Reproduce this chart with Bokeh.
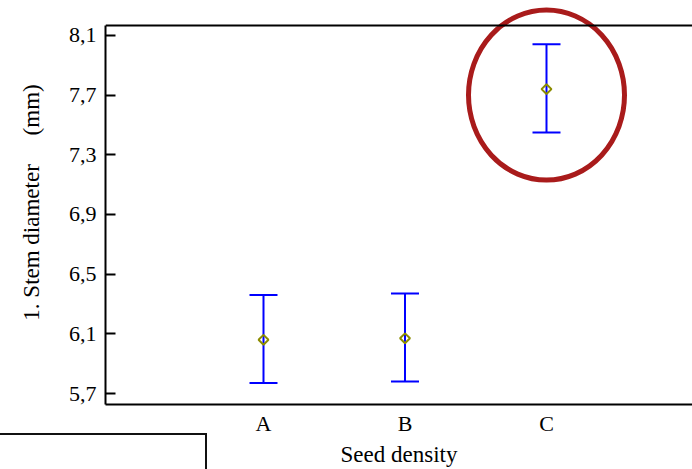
from bokeh.plotting import figure
from bokeh.models import (Range1d, FixedTicker, CustomJSTickFormatter, Whisker, TeeHead,
                          ColumnDataSource, Span, InlineStyleSheet)
from bokeh.embed import file_html
from bokeh.resources import INLINE
import numpy as np

# Data
categories = ["A", "B", "C"]
cat_pos = [1, 2, 3]
means = [6.06, 6.07, 7.74]
lower = [5.77, 5.78, 7.45]
upper = [6.36, 6.37, 8.04]
y_ticks = [5.7, 6.1, 6.5, 6.9, 7.3, 7.7, 8.1]

FONT = "Liberation Serif"

p = figure(width=692, height=469, output_backend="svg", toolbar_location=None,
           x_range=Range1d(-0.1166, 4.0318), y_range=Range1d(5.6263, 8.334),
           min_border_left=105, min_border_right=0, min_border_top=0, min_border_bottom=65)
p.outline_line_color = None
p.grid.visible = False
p.background_fill_color = "white"
p.border_fill_color = "white"

# top border line
p.add_layout(Span(location=8.1665, dimension="width", line_color="black", line_width=2))

# y axis
ya = p.yaxis[0]
ya.ticker = FixedTicker(ticks=y_ticks)
ya.formatter = CustomJSTickFormatter(code="return tick.toFixed(1).replace('.', ',');")
ya.bounds = (5.6263, 8.1665)
ya.axis_line_width = 2
ya.major_tick_in = 10
ya.major_tick_out = 0
ya.major_tick_line_width = 2
ya.minor_tick_line_color = None
ya.major_label_text_font = FONT
ya.major_label_text_font_size = "22px"
ya.major_label_text_color = "black"
ya.major_label_standoff = 9
ya.axis_label = "1. Stem diameter\u00a0\u00a0\u00a0\u00a0\u00a0(mm)"
ya.axis_label_text_font = FONT
ya.axis_label_text_font_size = "23px"
ya.axis_label_text_font_style = "normal"
ya.axis_label_text_color = "black"
ya.axis_label_standoff = 22

# x axis
xa = p.xaxis[0]
xa.ticker = FixedTicker(ticks=cat_pos)
xa.major_label_overrides = {pos: c for pos, c in zip(cat_pos, categories)}
xa.axis_line_width = 2
xa.major_tick_line_color = None
xa.minor_tick_line_color = None
xa.major_label_text_font = FONT
xa.major_label_text_font_size = "22px"
xa.major_label_text_color = "black"
xa.major_label_standoff = 0
xa.axis_label = "Seed density"
xa.axis_label_text_font = FONT
xa.axis_label_text_font_size = "23px"
xa.axis_label_text_font_style = "normal"
xa.axis_label_text_color = "black"
xa.axis_label_standoff = 3

src = ColumnDataSource(dict(x=cat_pos, mean=means, lower=lower, upper=upper))

w = Whisker(source=src, base="x", upper="upper", lower="lower",
            line_color="#0000FF", line_width=2,
            upper_head=TeeHead(size=28, line_color="#0000FF", line_width=2),
            lower_head=TeeHead(size=28, line_color="#0000FF", line_width=2))
p.add_layout(w)

p.scatter(x="x", y="mean", source=src, marker="square", angle=np.pi / 4, size=7,
          fill_color=None, line_color="#8C8C00", line_width=2)

# highlight ellipse around C
p.ellipse(x=[cat_pos[2]], y=[7.70], width=156, height=170,
          width_units="screen", height_units="screen",
          fill_color=None, line_color="#A91B1B", line_width=5)

# stray box edge at bottom left (decoration only)
p.stylesheets = [InlineStyleSheet(css="""
:host::after {
  content: "";
  position: absolute;
  left: -4px;
  top: 433px;
  width: 211px;
  height: 60px;
  border: 2px solid #111;
  box-sizing: border-box;
  pointer-events: none;
}
""")]

open("out.html", "w").write(file_html(p, INLINE))
